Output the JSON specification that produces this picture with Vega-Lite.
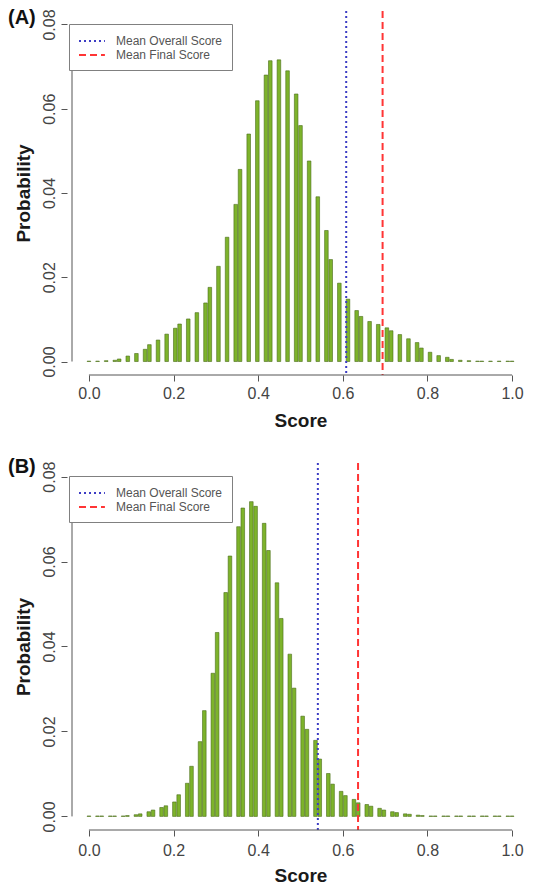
{
  "$schema": "https://vega.github.io/schema/vega-lite/v6.json",
  "padding": {"left": 8, "top": 7, "right": 0, "bottom": 0},
  "spacing": 27,
  "config": {
    "font": "Liberation Sans",
    "view": {"stroke": null},
    "axis": {
      "domain": false,
      "grid": false,
      "tickColor": "#555555",
      "tickSize": 6,
      "tickWidth": 1,
      "labelFont": "Liberation Sans",
      "labelFontSize": 16,
      "labelColor": "#444444",
      "titleFont": "Liberation Sans",
      "titleFontSize": 19,
      "titleFontWeight": "bold",
      "titleColor": "#1a1a1a"
    },
    "legend": {
      "strokeColor": "#808080",
      "fillColor": "#ffffff",
      "padding": 9,
      "labelFont": "Liberation Sans",
      "labelFontSize": 12,
      "labelColor": "#555555",
      "symbolType": "M-1,0H2.7",
      "symbolStrokeWidth": 2,
      "symbolSize": 196,
      "labelOffset": 22,
      "rowPadding": 0
    }
  },
  "datasets": {
    "scoresA": [
      {"score": 0, "probability": 0.0001},
      {"score": 0.0204, "probability": 0.0001},
      {"score": 0.0408, "probability": 0.0002},
      {"score": 0.0612, "probability": 0.0003},
      {"score": 0.0714, "probability": 0.0006},
      {"score": 0.0918, "probability": 0.0013},
      {"score": 0.1122, "probability": 0.0019},
      {"score": 0.1327, "probability": 0.0029},
      {"score": 0.1429, "probability": 0.004},
      {"score": 0.1633, "probability": 0.0051},
      {"score": 0.1837, "probability": 0.0065},
      {"score": 0.2041, "probability": 0.0079},
      {"score": 0.2143, "probability": 0.0089},
      {"score": 0.2347, "probability": 0.0101},
      {"score": 0.2551, "probability": 0.0116},
      {"score": 0.2755, "probability": 0.0139},
      {"score": 0.2857, "probability": 0.0176},
      {"score": 0.3061, "probability": 0.0226},
      {"score": 0.3265, "probability": 0.0295},
      {"score": 0.3469, "probability": 0.0373},
      {"score": 0.3571, "probability": 0.0456},
      {"score": 0.3776, "probability": 0.054},
      {"score": 0.398, "probability": 0.0619},
      {"score": 0.4184, "probability": 0.068},
      {"score": 0.4286, "probability": 0.0714},
      {"score": 0.449, "probability": 0.0716},
      {"score": 0.4694, "probability": 0.069},
      {"score": 0.4898, "probability": 0.0635},
      {"score": 0.5, "probability": 0.056},
      {"score": 0.5204, "probability": 0.0476},
      {"score": 0.5408, "probability": 0.0391},
      {"score": 0.5612, "probability": 0.0311},
      {"score": 0.5714, "probability": 0.0242},
      {"score": 0.5918, "probability": 0.0186},
      {"score": 0.6122, "probability": 0.0148},
      {"score": 0.6327, "probability": 0.0121},
      {"score": 0.6429, "probability": 0.0107},
      {"score": 0.6633, "probability": 0.0095},
      {"score": 0.6837, "probability": 0.0088},
      {"score": 0.7041, "probability": 0.008},
      {"score": 0.7143, "probability": 0.0073},
      {"score": 0.7347, "probability": 0.0064},
      {"score": 0.7551, "probability": 0.0054},
      {"score": 0.7755, "probability": 0.0045},
      {"score": 0.7857, "probability": 0.0032},
      {"score": 0.8061, "probability": 0.0022},
      {"score": 0.8265, "probability": 0.0014},
      {"score": 0.8469, "probability": 0.001},
      {"score": 0.8571, "probability": 0.0005},
      {"score": 0.8776, "probability": 0.0003},
      {"score": 0.898, "probability": 0.0002},
      {"score": 0.9184, "probability": 0.0001},
      {"score": 0.9286, "probability": 0.0001},
      {"score": 0.949, "probability": 0.0001},
      {"score": 0.9694, "probability": 0.0001},
      {"score": 0.9898, "probability": 0.0001},
      {"score": 1, "probability": 0.0001}
    ],
    "scoresB": [
      {"score": 0, "probability": 0.0001},
      {"score": 0.0202, "probability": 0.0001},
      {"score": 0.0303, "probability": 0.0001},
      {"score": 0.0505, "probability": 0.0001},
      {"score": 0.0606, "probability": 0.0001},
      {"score": 0.0808, "probability": 0.0001},
      {"score": 0.0909, "probability": 0.0002},
      {"score": 0.1111, "probability": 0.0004},
      {"score": 0.1212, "probability": 0.0006},
      {"score": 0.1414, "probability": 0.0011},
      {"score": 0.1515, "probability": 0.0015},
      {"score": 0.1717, "probability": 0.0021},
      {"score": 0.1818, "probability": 0.0025},
      {"score": 0.202, "probability": 0.0034},
      {"score": 0.2121, "probability": 0.0051},
      {"score": 0.2323, "probability": 0.0078},
      {"score": 0.2424, "probability": 0.0118},
      {"score": 0.2626, "probability": 0.0176},
      {"score": 0.2727, "probability": 0.0249},
      {"score": 0.2929, "probability": 0.0337},
      {"score": 0.303, "probability": 0.0433},
      {"score": 0.3232, "probability": 0.0527},
      {"score": 0.3333, "probability": 0.0613},
      {"score": 0.3535, "probability": 0.0682},
      {"score": 0.3636, "probability": 0.0726},
      {"score": 0.3838, "probability": 0.0741},
      {"score": 0.3939, "probability": 0.073},
      {"score": 0.4141, "probability": 0.069},
      {"score": 0.4242, "probability": 0.0626},
      {"score": 0.4444, "probability": 0.055},
      {"score": 0.4545, "probability": 0.0466},
      {"score": 0.4747, "probability": 0.0382},
      {"score": 0.4848, "probability": 0.0302},
      {"score": 0.5051, "probability": 0.0236},
      {"score": 0.5152, "probability": 0.0205},
      {"score": 0.5354, "probability": 0.0179},
      {"score": 0.5455, "probability": 0.0135},
      {"score": 0.5657, "probability": 0.0101},
      {"score": 0.5758, "probability": 0.0076},
      {"score": 0.596, "probability": 0.0059},
      {"score": 0.6061, "probability": 0.0049},
      {"score": 0.6263, "probability": 0.004},
      {"score": 0.6364, "probability": 0.0032},
      {"score": 0.6566, "probability": 0.0028},
      {"score": 0.6667, "probability": 0.0024},
      {"score": 0.6869, "probability": 0.0019},
      {"score": 0.697, "probability": 0.0015},
      {"score": 0.7172, "probability": 0.0011},
      {"score": 0.7273, "probability": 0.0009},
      {"score": 0.7475, "probability": 0.0006},
      {"score": 0.7576, "probability": 0.0005},
      {"score": 0.7778, "probability": 0.0003},
      {"score": 0.7879, "probability": 0.0002},
      {"score": 0.8081, "probability": 0.0001},
      {"score": 0.8182, "probability": 0.0001},
      {"score": 0.8384, "probability": 0.0001},
      {"score": 0.8485, "probability": 0.0001},
      {"score": 0.8687, "probability": 0.0001},
      {"score": 0.8788, "probability": 0.0001},
      {"score": 0.899, "probability": 0.0001},
      {"score": 0.9091, "probability": 0.0001},
      {"score": 0.9293, "probability": 0.0001},
      {"score": 0.9394, "probability": 0.0001},
      {"score": 0.9596, "probability": 0.0001},
      {"score": 0.9697, "probability": 0.0001},
      {"score": 0.9899, "probability": 0.0001},
      {"score": 1, "probability": 0.0001}
    ],
    "meansA": [
      {"series": "Mean Overall Score", "score": 0.608},
      {"series": "Mean Final Score", "score": 0.694}
    ],
    "meansB": [
      {"series": "Mean Overall Score", "score": 0.541},
      {"series": "Mean Final Score", "score": 0.636}
    ]
  },
  "vconcat": [
    {
      "width": 467,
      "height": 364,
      "title": {"text": "(A)", "anchor": "start", "frame": "bounds", "offset": -19, "dx": -6, "fontSize": 20, "fontWeight": "bold", "color": "#111111"},
      "layer": [
        {
          "data": {"name": "scoresA"},
          "mark": {"type": "bar", "size": 3.6, "fill": "#7db32b", "stroke": "#4a6b1a", "strokeWidth": 0.6},
          "encoding": {
            "x": {"field": "score", "type": "quantitative", "scale": {"domain": [-0.04, 1.04], "nice": false, "zero": false},
                  "axis": {"values": [0, 0.2, 0.4, 0.6, 0.8, 1], "format": ".1f", "title": "Score", "labelPadding": 4, "titlePadding": 10}},
            "y": {"field": "probability", "type": "quantitative", "scale": {"domain": [-0.0032, 0.0832], "nice": false, "zero": false},
                  "axis": {"values": [0, 0.02, 0.04, 0.06, 0.08], "format": ".2f", "title": "Probability", "labelAngle": -90, "labelAlign": "center", "labelBaseline": "bottom", "labelPadding": 4, "titlePadding": 8, "minExtent": 26, "maxExtent": 26}},
            "y2": {"datum": 0}
          }
        },
        {
          "data": {"name": "meansA"},
          "mark": {"type": "rule", "strokeWidth": 2},
          "encoding": {
            "x": {"field": "score", "type": "quantitative"},
            "color": {"field": "series", "type": "nominal", "scale": {"domain": ["Mean Overall Score", "Mean Final Score"], "range": ["#3c3cc4", "#ff3535"]},
                      "legend": {"orient": "none", "legendX": 2, "legendY": 13, "title": null}},
            "strokeDash": {"field": "series", "type": "nominal", "scale": {"domain": ["Mean Overall Score", "Mean Final Score"], "range": [[2, 3], [7, 4]]},
                           "legend": {"orient": "none", "legendX": 2, "legendY": 13, "title": null}}
          }
        },
        {
          "data": {"values": [{}]},
          "mark": {"type": "rule", "color": "#555555"},
          "encoding": {"x": {"datum": -0.04}, "y": {"datum": 0}, "y2": {"datum": 0.08}}
        },
        {
          "data": {"values": [{}]},
          "mark": {"type": "rule", "color": "#555555"},
          "encoding": {"y": {"datum": -0.0032}, "x": {"datum": 0}, "x2": {"datum": 1}}
        }
      ]
    },
    {
      "width": 467,
      "height": 367,
      "title": {"text": "(B)", "anchor": "start", "frame": "bounds", "offset": -16, "dx": -6, "fontSize": 20, "fontWeight": "bold", "color": "#111111"},
      "layer": [
        {
          "data": {"name": "scoresB"},
          "mark": {"type": "bar", "size": 3.6, "fill": "#7db32b", "stroke": "#4a6b1a", "strokeWidth": 0.6},
          "encoding": {
            "x": {"field": "score", "type": "quantitative", "scale": {"domain": [-0.04, 1.04], "nice": false, "zero": false},
                  "axis": {"values": [0, 0.2, 0.4, 0.6, 0.8, 1], "format": ".1f", "title": "Score", "labelPadding": 6, "titlePadding": 8}},
            "y": {"field": "probability", "type": "quantitative", "scale": {"domain": [-0.0032, 0.0832], "nice": false, "zero": false},
                  "axis": {"values": [0, 0.02, 0.04, 0.06, 0.08], "format": ".2f", "title": "Probability", "labelAngle": -90, "labelAlign": "center", "labelBaseline": "bottom", "labelPadding": 4, "titlePadding": 8, "minExtent": 26, "maxExtent": 26}},
            "y2": {"datum": 0}
          }
        },
        {
          "data": {"name": "meansB"},
          "mark": {"type": "rule", "strokeWidth": 2},
          "encoding": {
            "x": {"field": "score", "type": "quantitative"},
            "color": {"field": "series", "type": "nominal", "scale": {"domain": ["Mean Overall Score", "Mean Final Score"], "range": ["#3c3cc4", "#ff3535"]},
                      "legend": {"orient": "none", "legendX": 2, "legendY": 13, "title": null}},
            "strokeDash": {"field": "series", "type": "nominal", "scale": {"domain": ["Mean Overall Score", "Mean Final Score"], "range": [[2, 3], [7, 4]]},
                           "legend": {"orient": "none", "legendX": 2, "legendY": 13, "title": null}}
          }
        },
        {
          "data": {"values": [{}]},
          "mark": {"type": "rule", "color": "#555555"},
          "encoding": {"x": {"datum": -0.04}, "y": {"datum": 0}, "y2": {"datum": 0.08}}
        },
        {
          "data": {"values": [{}]},
          "mark": {"type": "rule", "color": "#555555"},
          "encoding": {"y": {"datum": -0.0032}, "x": {"datum": 0}, "x2": {"datum": 1}}
        }
      ]
    }
  ],
  "resolve": {
    "scale": {"color": "independent", "strokeDash": "independent"},
    "legend": {"color": "independent", "strokeDash": "independent"}
  }
}
